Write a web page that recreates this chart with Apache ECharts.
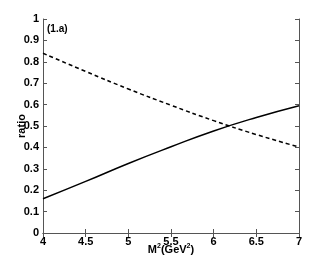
<!DOCTYPE html>
<html><head><meta charset="utf-8">
<script src="https://cdn.jsdelivr.net/npm/echarts@6/dist/echarts.min.js"></script>
<style>html,body{margin:0;padding:0;background:#fff}#c{width:331px;height:262px}</style>
</head><body><div id="c"></div>
<script>
var xValues = [4, 4.5, 5, 5.5, 6, 6.5, 7];
var solidValues = [0.16, 0.241, 0.325, 0.403, 0.477, 0.54, 0.595];
var dashedValues = [0.84, 0.755, 0.673, 0.597, 0.525, 0.46, 0.402];
var xTicks = ['4', '4.5', '5', '5.5', '6', '6.5', '7'];
var yTicks = ['0', '0.1', '0.2', '0.3', '0.4', '0.5', '0.6', '0.7', '0.8', '0.9', '1'];

function pairs(vals) { return xValues.map(function (x, i) { return [x, vals[i]]; }); }
var font = 'Liberation Sans, Arial, sans-serif';
var axisLine = { show: true, lineStyle: { color: '#555', width: 1 } };
var tick = { show: true, inside: true, length: 4, lineStyle: { color: '#555' } };
var chart = echarts.init(document.getElementById('c'));
chart.setOption({
  animation: false,
  grid: { left: 43, right: 32, top: 19, bottom: 29, containLabel: false, outerBoundsMode: 'none' },
  xAxis: [{
    type: 'value', min: 4, max: 7, interval: 0.5,
    axisLine: axisLine, axisTick: tick, splitLine: { show: false },
    axisLabel: { color: '#000', fontWeight: 'bold', fontSize: 11, fontFamily: font, margin: 3,
      formatter: function (v) { var s = String(v); return xTicks.indexOf(s) >= 0 ? s : ''; } },
    name: 'M{s|2}(GeV{s|2})', nameLocation: 'middle', nameGap: 10, nameMoveOverlap: false,
    nameTextStyle: { color: '#000', fontWeight: 'bold', fontSize: 11, fontFamily: font,
      rich: { s: { fontSize: 7, fontWeight: 'bold', verticalAlign: 'top', padding: [0, 0, 6, 0], fontFamily: font } } }
  }, {
    type: 'value', position: 'top', min: 4, max: 7, interval: 0.5,
    axisLine: axisLine, axisTick: tick, axisLabel: { show: false }, splitLine: { show: false }
  }],
  yAxis: [{
    type: 'value', min: 0, max: 1, interval: 0.1,
    axisLine: axisLine, axisTick: tick, splitLine: { show: false },
    axisLabel: { color: '#000', fontWeight: 'bold', fontSize: 11, fontFamily: font, margin: 4,
      formatter: function (v) { var i = Math.round(v * 10); return yTicks[i]; } },
    name: 'ratio', nameLocation: 'middle', nameGap: 16, nameRotate: 90, nameMoveOverlap: false,
    nameTextStyle: { color: '#000', fontWeight: 'bold', fontSize: 11, fontFamily: font }
  }, {
    type: 'value', position: 'right', min: 0, max: 1, interval: 0.1,
    axisLine: axisLine, axisTick: tick, axisLabel: { show: false }, splitLine: { show: false }
  }],
  graphic: [{
    type: 'text', left: 47, top: 24,
    style: { text: '(1.a)', fill: '#000', font: 'bold 10px ' + font }
  }],
  series: [{
    type: 'line', data: pairs(solidValues), smooth: true, symbol: 'none',
    lineStyle: { color: '#000', width: 1.5, type: 'solid' }
  }, {
    type: 'line', data: pairs(dashedValues), smooth: true, symbol: 'none',
    lineStyle: { color: '#000', width: 1.5, type: [4, 3] }
  }]
});
</script></body></html>
